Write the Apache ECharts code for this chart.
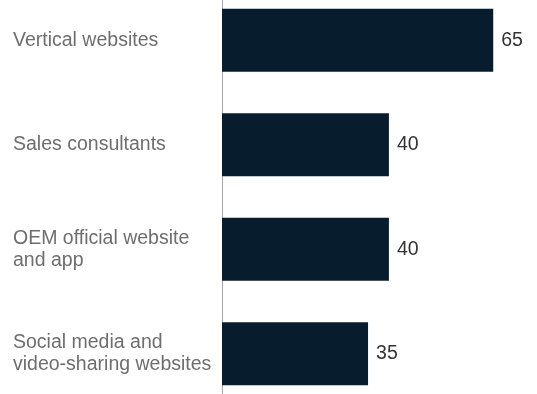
<!DOCTYPE html>
<html>
<head>
<meta charset="utf-8">
<script src="https://cdn.jsdelivr.net/npm/echarts@6/dist/echarts.min.js"></script>
<style>
  html, body { margin: 0; padding: 0; background: #fff; }
  #chart { width: 537px; height: 394px; }
</style>
</head>
<body>
<div id="chart"></div>
<script>
// Share of respondents by information channel
const categories = [
  'Vertical websites',
  'Sales consultants',
  'OEM official website\nand app',
  'Social media and\nvideo-sharing websites'
];
const values = [65, 40, 40, 35];

const chart = echarts.init(document.getElementById('chart'));
chart.setOption({
  animation: false,
  grid: {
    left: 222, top: -12, right: 25, bottom: -12,
    containLabel: false,
    outerBoundsMode: 'none'
  },
  xAxis: {
    type: 'value', min: 0, max: 69.5,
    show: false
  },
  yAxis: {
    type: 'category',
    inverse: true,
    data: categories,
    axisLine: { show: true, lineStyle: { color: '#a6a6a6', width: 1 } },
    axisTick: { show: false },
    axisLabel: {
      align: 'left',
      margin: 209,
      color: '#6e6e6e',
      fontFamily: 'Liberation Sans, Arial, sans-serif',
      fontSize: 19.5,
      lineHeight: 22
    }
  },
  series: [{
    type: 'bar',
    data: values,
    barWidth: 63,
    itemStyle: { color: '#071c2c' },
    label: {
      show: true,
      position: 'right',
      distance: 8,
      color: '#333',
      fontFamily: 'Liberation Sans, Arial, sans-serif',
      fontSize: 19.5
    }
  }]
});
</script>
</body>
</html>
